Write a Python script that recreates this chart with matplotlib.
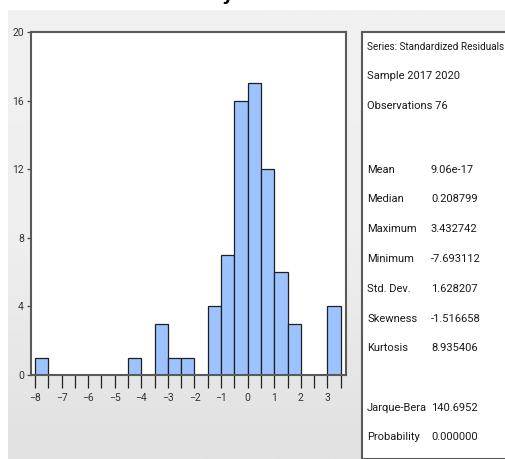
import numpy as np
import matplotlib.pyplot as plt
from matplotlib.patches import Rectangle

# histogram of standardized residuals (bins of width 0.5)
bin_left = [-8.0, -7.5, -7.0, -6.5, -6.0, -5.5, -5.0, -4.5, -4.0, -3.5, -3.0, -2.5,
            -2.0, -1.5, -1.0, -0.5, 0.0, 0.5, 1.0, 1.5, 2.0, 2.5, 3.0]
counts = [1, 0, 0, 0, 0, 0, 0, 1, 0, 3, 1, 1,
          0, 4, 7, 16, 17, 12, 6, 3, 0, 0, 4]
x_ticks = [-8, -7, -6, -5, -4, -3, -2, -1, 0, 1, 2, 3]
y_ticks = [0, 4, 8, 12, 16, 20]

stat_header = ["Series: Standardized Residuals", "Sample 2017 2020", "Observations 76"]
stat_names = ["Mean", "Median", "Maximum", "Minimum", "Std. Dev.", "Skewness", "Kurtosis"]
stat_values = ["9.06e-17", "0.208799", "3.432742", "-7.693112", "1.628207", "-1.516658", "8.935406"]
test_names = ["Jarque-Bera", "Probability"]
test_values = ["140.6952", "0.000000"]

FONT = ['Roboto', 'DejaVu Sans']
plt.rcParams['font.family'] = FONT

W, H = 506, 459
fig = plt.figure(figsize=(W / 100, H / 100), dpi=100)
fig.patch.set_facecolor('white')

# grey window background with a soft vertical gradient
bg = fig.add_axes([8 / W, 0, 1 - 8 / W, (H - 10) / H], zorder=-5)
grad = np.linspace(0, 1, 256).reshape(-1, 1)
bg.imshow(grad, aspect='auto', cmap=plt.matplotlib.colors.LinearSegmentedColormap.from_list(
    'g', ['#f1f1f1', '#efefef', '#e1e1e1']), extent=[0, 1, 0, 1], origin='upper')
bg.set_axis_off()

# cut-off title glyph at the very top (only its tail is visible)
fig.text(228 / W, 1 - 0.5 / H, "y", fontsize=13, fontweight='bold', ha='center', va='baseline',
         family=['DejaVu Sans'], color='black')

# histogram axes
ax = fig.add_axes([31 / W, 1 - 375 / H, (346 - 31) / W, (375 - 32) / H])
ax.set_facecolor('white')
ax.bar(bin_left, counts, width=0.5, align='edge', color='#9cc3ff',
       edgecolor='#1f1f1f', linewidth=0.9)
ax.set_xlim(-8.15, 3.7)
ax.set_ylim(0, 20)
ax.set_xticks(x_ticks)
ax.set_xticks(np.arange(-7.5, 3.6, 1.0), minor=True)
ax.set_yticks(y_ticks)
ax.tick_params(axis='x', which='both', direction='out', length=9, width=0.9,
               color='#222222', labelsize=7.5, labelcolor='#333333', pad=4)
ax.tick_params(axis='y', direction='out', length=3, width=0.9, color='#444444',
               labelsize=7.5, labelcolor='#333333', pad=2)
for s in ax.spines.values():
    s.set_color('#5a5a5a')
    s.set_linewidth(1.5)

# statistics panel
px0, py0 = 362 / W, 0
panel = Rectangle((px0, py0), 1 - px0 + 0.01, 1 - 32 / H, transform=fig.transFigure,
                  facecolor='white', edgecolor='#5a5a5a', linewidth=1.5, zorder=1)
fig.patches.append(panel)

lx = 367 / W
vx = 431 / W
fs = 8
header_y = [47, 76, 106]
for t, yy in zip(stat_header, header_y):
    fig.text(lx, 1 - yy / H, t, fontsize=7.2 if t.startswith("Series") else fs,
             va='center', ha='left', color='#1a1a1a', zorder=3)
stat_y = [170, 199, 229, 259, 289, 319, 348]
for n, v, yy in zip(stat_names, stat_values, stat_y):
    fig.text(lx, 1 - yy / H, n, fontsize=fs, va='center', ha='left', color='#1a1a1a', zorder=3)
    fig.text(vx, 1 - yy / H, v, fontsize=fs, va='center', ha='left', color='#1a1a1a', zorder=3)
test_y = [408, 437]
for n, v, yy in zip(test_names, test_values, test_y):
    fig.text(lx, 1 - yy / H, n, fontsize=fs, va='center', ha='left', color='#1a1a1a', zorder=3)
    fig.text(vx, 1 - yy / H, v, fontsize=fs, va='center', ha='left', color='#1a1a1a', zorder=3)

fig.savefig('out.png', dpi=100)
